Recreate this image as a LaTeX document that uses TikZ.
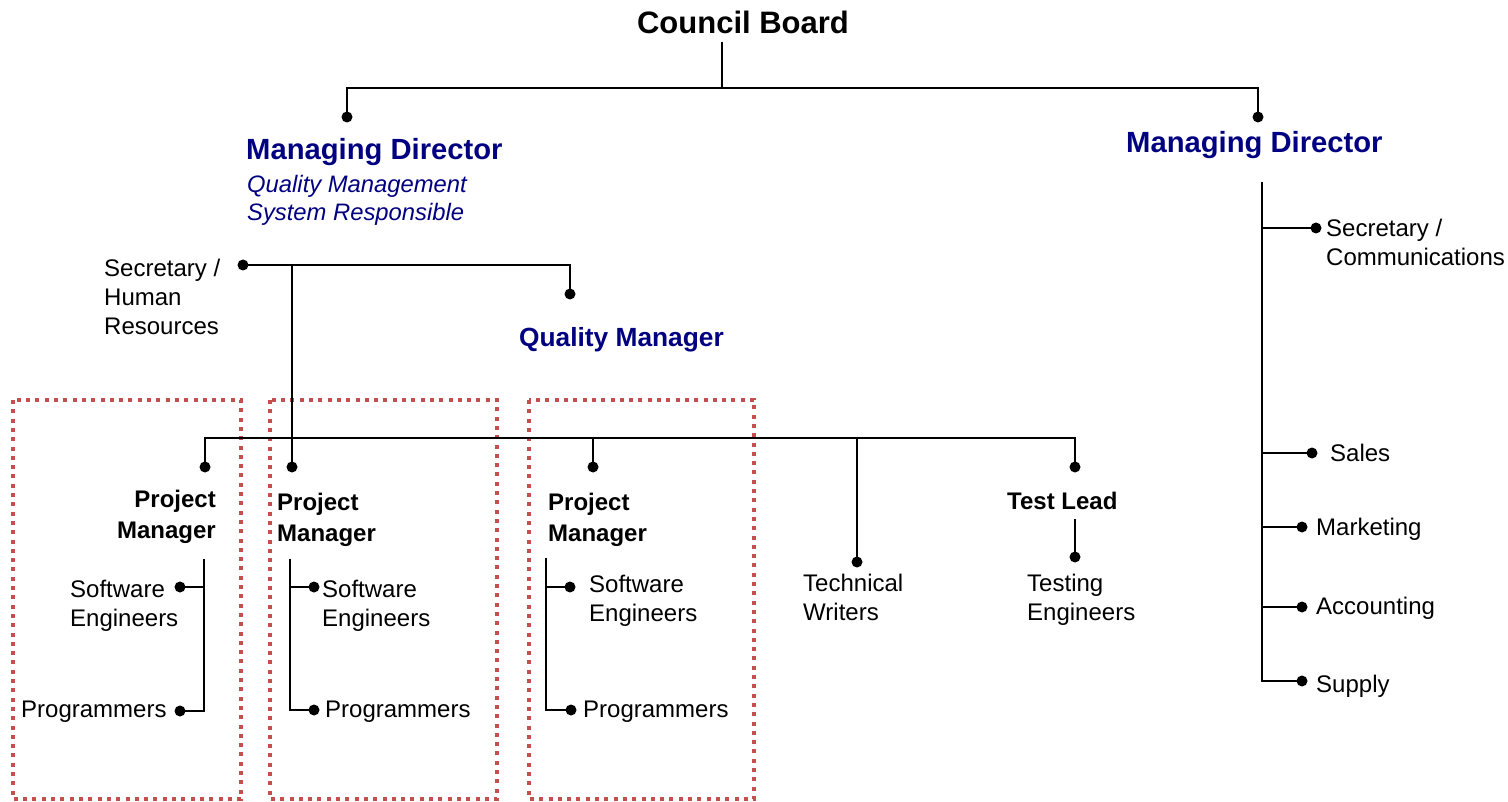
\documentclass[tikz,border=0pt]{standalone}
\usepackage{fontspec}
\setmainfont{Liberation Sans}
\definecolor{navyblue}{RGB}{0,0,128}
\definecolor{boxred}{RGB}{196,80,77}
\begin{document}
\begin{tikzpicture}[x=1pt,y=-1pt,
  conn/.style={line width=1.8pt,black},
  dot/.style={circle,fill=black,inner sep=0pt,minimum size=11pt},
  cbtitle/.style={font=\fontsize{31}{36}\selectfont\bfseries,inner sep=0pt},
  mdtitle/.style={font=\fontsize{29.2}{34}\selectfont\bfseries,text=navyblue,inner sep=0pt},
  qmtitle/.style={font=\fontsize{26.3}{31}\selectfont\bfseries,text=navyblue,inner sep=0pt},
  qms/.style={font=\fontsize{23.8}{28}\selectfont\itshape,text=navyblue,inner sep=0pt,align=left},
  lbl/.style={font=\fontsize{24}{29}\selectfont,inner sep=0pt,align=left},
  blbl/.style={font=\fontsize{24}{31}\selectfont\bfseries,inner sep=0pt},
  redbox/.style={draw=boxred,line width=4pt,dash pattern=on 4pt off 5.3pt}
]
\useasboundingbox (0,0) rectangle (1508,802);

% red dotted boxes
\draw[redbox] (13,400) rectangle (241,799);
\draw[redbox] (270,400) rectangle (497,799);
\draw[redbox] (529,400) rectangle (754,799);

% top level
\node[cbtitle] (cb) at (743,22) {Council Board};
\coordinate (cbb) at (722,42);
\coordinate (cbj) at (722,88);
\coordinate (hl) at (347,88);
\coordinate (hr) at (1258,88);
\node[dot] (d1) at (347,117) {};
\node[dot] (d2) at (1258,117) {};
\draw[conn] (cbb) -- (cbj);
\draw[conn] (d1.center) -- (hl) -- (hr) -- (d2.center);

\node[mdtitle,anchor=west] (md1) at (246,152) {Managing Director};
\node[qms,anchor=north west] (qms) at (247,175) {Quality Management\\System Responsible};
\node[mdtitle,anchor=west] (md2) at (1126,145) {Managing Director};

% right column
\coordinate (rv1) at (1262,182);
\coordinate (rb1) at (1262,228);
\coordinate (rb2) at (1262,453);
\coordinate (rb3) at (1262,527);
\coordinate (rb4) at (1262,607);
\coordinate (rb5) at (1262,681);
\node[dot] (dsec2) at (1316,228) {};
\node[dot] (dsales) at (1312,453) {};
\node[dot] (dmkt) at (1302,527) {};
\node[dot] (dacc) at (1302,607) {};
\node[dot] (dsup) at (1302,681) {};
\draw[conn] (rv1) -- (rb5) -- (dsup.center);
\draw[conn] (rb1) -- (dsec2.center);
\draw[conn] (rb2) -- (dsales.center);
\draw[conn] (rb3) -- (dmkt.center);
\draw[conn] (rb4) -- (dacc.center);
\node[lbl,anchor=north west] (sec2) at (1326,219) {Secretary /\\Communications};
\node[lbl,anchor=west] (sales) at (1330,453) {Sales};
\node[lbl,anchor=west] (mkt) at (1316,529) {Marketing};
\node[lbl,anchor=west] (acc) at (1316,608) {Accounting};
\node[lbl,anchor=west] (sup) at (1316,686) {Supply};

% secretary / HR and quality manager
\node[dot] (dsh) at (243,265) {};
\coordinate (qmj) at (570,265);
\node[dot] (dqm) at (570,294) {};
\draw[conn] (dsh.center) -- (qmj) -- (dqm.center);
\node[lbl,anchor=north west] (sh) at (104,259) {Secretary /\\Human\\Resources};
\node[qmtitle,anchor=west] (qm) at (519,340) {Quality Manager};

% bus
\coordinate (vj) at (292,265);
\coordinate (bj) at (292,438);
\coordinate (bl) at (205,438);
\coordinate (b3) at (593,438);
\coordinate (b4) at (857,438);
\coordinate (br) at (1075,438);
\node[dot] (p1) at (205,467) {};
\node[dot] (p2) at (292,467) {};
\node[dot] (p3) at (593,467) {};
\node[dot] (tw) at (857,562) {};
\node[dot] (tl) at (1075,467) {};
\draw[conn] (vj) -- (p2.center);
\draw[conn] (p1.center) -- (bl) -- (br) -- (tl.center);
\draw[conn] (b3) -- (p3.center);
\draw[conn] (b4) -- (tw.center);

% box 1
\node[blbl,anchor=north east,align=right] (pm1) at (216,490) {Project\\Manager};
\coordinate (v1t) at (204,559);
\coordinate (v1a) at (204,587);
\coordinate (v1b) at (204,711);
\node[dot] (se1d) at (180,587) {};
\node[dot] (pr1d) at (180,711) {};
\draw[conn] (v1t) -- (v1b) -- (pr1d.center);
\draw[conn] (v1a) -- (se1d.center);
\node[lbl,anchor=north west] (se1) at (70,580) {Software\\Engineers};
\node[lbl,anchor=west] (pr1) at (21,712) {Programmers};

% box 2
\node[blbl,anchor=north west,align=left] (pm2) at (277,493) {Project\\Manager};
\coordinate (v2t) at (290,559);
\coordinate (v2a) at (290,587);
\coordinate (v2b) at (290,710);
\node[dot] (se2d) at (314,587) {};
\node[dot] (pr2d) at (314,710) {};
\draw[conn] (v2t) -- (v2b) -- (pr2d.center);
\draw[conn] (v2a) -- (se2d.center);
\node[lbl,anchor=north west] (se2) at (322,580) {Software\\Engineers};
\node[lbl,anchor=west] (pr2) at (325,712) {Programmers};

% box 3
\node[blbl,anchor=north west,align=left] (pm3) at (548,493) {Project\\Manager};
\coordinate (v3t) at (546,558);
\coordinate (v3a) at (546,587);
\coordinate (v3b) at (546,710);
\node[dot] (se3d) at (570,587) {};
\node[dot] (pr3d) at (571,710) {};
\draw[conn] (v3t) -- (v3b) -- (pr3d.center);
\draw[conn] (v3a) -- (se3d.center);
\node[lbl,anchor=north west] (se3) at (589,575) {Software\\Engineers};
\node[lbl,anchor=west] (pr3) at (583,712) {Programmers};

% technical writers, test lead
\node[lbl,anchor=north west] (twl) at (803,574) {Technical\\Writers};
\node[blbl,anchor=west] (tll) at (1007,501) {Test Lead};
\coordinate (tlt) at (1075,519);
\node[dot] (ted) at (1075,557) {};
\draw[conn] (tlt) -- (ted.center);
\node[lbl,anchor=north west] (te) at (1027,574) {Testing\\Engineers};
\end{tikzpicture}
\end{document}
